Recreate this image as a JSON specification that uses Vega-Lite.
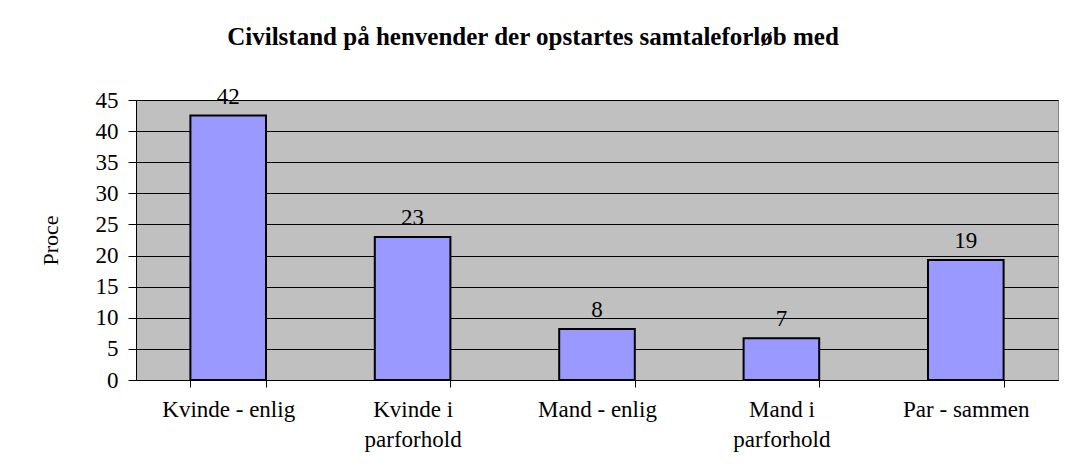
{
  "$schema": "https://vega.github.io/schema/vega-lite/v6.json",
  "autosize": {"type": "none"},
  "padding": {"left": 136, "top": 100, "right": 11, "bottom": 90},
  "width": 922,
  "height": 280,
  "background": "white",
  "title": {
    "text": "Civilstand på henvender der opstartes samtaleforløb med",
    "font": "Liberation Serif",
    "fontSize": 25,
    "fontWeight": "bold",
    "color": "black",
    "anchor": "middle",
    "dx": -64,
    "offset": 36
  },
  "data": {
    "values": [
      {"kategori": "Kvinde - enlig", "procent": 42.5, "label": 42},
      {"kategori": "Kvinde i\nparforhold", "procent": 23.0, "label": 23},
      {"kategori": "Mand - enlig", "procent": 8.2, "label": 8},
      {"kategori": "Mand i\nparforhold", "procent": 6.7, "label": 7},
      {"kategori": "Par - sammen", "procent": 19.3, "label": 19}
    ]
  },
  "encoding": {
    "x": {
      "field": "kategori",
      "type": "nominal",
      "sort": null,
      "scale": {"paddingInner": 0.59, "paddingOuter": 0.295},
      "axis": {
        "title": null,
        "labelAngle": 0,
        "labelExpr": "split(datum.label, '\\n')",
        "labelFont": "Liberation Serif",
        "labelFontSize": 23,
        "labelLineHeight": 30,
        "labelColor": "black",
        "labelPadding": 11,
        "tickBand": "extent",
        "tickSize": 7,
        "tickColor": "black",
        "domainColor": "black",
        "grid": false
      }
    },
    "y": {
      "field": "procent",
      "type": "quantitative",
      "scale": {"domain": [0, 45], "nice": false},
      "axis": {
        "title": "Proce",
        "titleFont": "Liberation Serif",
        "titleFontSize": 22,
        "titleFontWeight": "normal",
        "titleColor": "black",
        "titlePadding": 33,
        "values": [0, 5, 10, 15, 20, 25, 30, 35, 40, 45],
        "labelFont": "Liberation Serif",
        "labelFontSize": 23,
        "labelColor": "black",
        "labelPadding": 10,
        "tickSize": 8,
        "tickColor": "black",
        "domainColor": "black",
        "grid": true,
        "gridColor": "black",
        "gridOpacity": 1,
        "gridWidth": 1
      }
    }
  },
  "layer": [
    {
      "mark": {"type": "bar", "fill": "#9999FF", "stroke": "black", "strokeWidth": 2}
    },
    {
      "mark": {
        "type": "text",
        "dy": -12,
        "baseline": "alphabetic",
        "font": "Liberation Serif",
        "fontSize": 23,
        "color": "black"
      },
      "encoding": {"text": {"field": "label", "type": "quantitative"}}
    }
  ],
  "config": {
    "view": {"fill": "#C0C0C0", "stroke": "#808080", "strokeWidth": 1}
  }
}
